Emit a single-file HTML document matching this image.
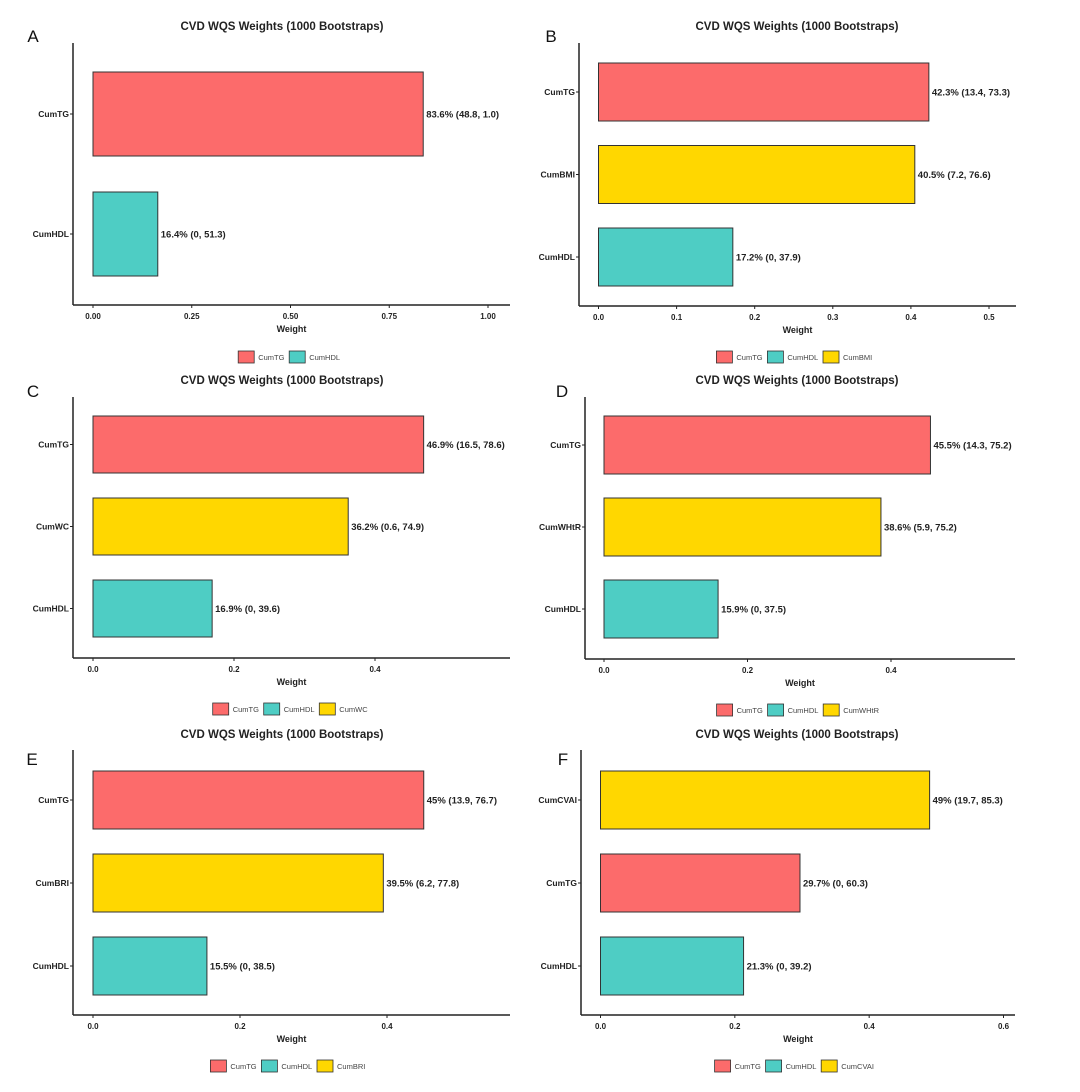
<!DOCTYPE html>
<html><head><meta charset="utf-8">
<style>
html,body{margin:0;padding:0;background:#fff;}
svg{display:block;font-family:"Liberation Sans",Arial,sans-serif;}
</style></head>
<body>
<svg id="fig" width="1080" height="1092" viewBox="0 0 1080 1092"></svg>
<script>
// Panel data
const catsA = ["CumTG","CumHDL"];
const valsA = [0.836,0.164];
const lblsA = ["83.6% (48.8, 1.0)","16.4% (0, 51.3)"];
const ticksA = [0,0.25,0.5,0.75,1.0];
const tickLblA = ["0.00","0.25","0.50","0.75","1.00"];
const legA = ["CumTG","CumHDL"];

const catsB = ["CumTG","CumBMI","CumHDL"];
const valsB = [0.423,0.405,0.172];
const lblsB = ["42.3% (13.4, 73.3)","40.5% (7.2, 76.6)","17.2% (0, 37.9)"];
const ticksB = [0,0.1,0.2,0.3,0.4,0.5];
const tickLblB = ["0.0","0.1","0.2","0.3","0.4","0.5"];
const legB = ["CumTG","CumHDL","CumBMI"];

const catsC = ["CumTG","CumWC","CumHDL"];
const valsC = [0.469,0.362,0.169];
const lblsC = ["46.9% (16.5, 78.6)","36.2% (0.6, 74.9)","16.9% (0, 39.6)"];
const ticksC = [0,0.2,0.4];
const tickLblC = ["0.0","0.2","0.4"];
const legC = ["CumTG","CumHDL","CumWC"];

const catsD = ["CumTG","CumWHtR","CumHDL"];
const valsD = [0.455,0.386,0.159];
const lblsD = ["45.5% (14.3, 75.2)","38.6% (5.9, 75.2)","15.9% (0, 37.5)"];
const ticksD = [0,0.2,0.4];
const tickLblD = ["0.0","0.2","0.4"];
const legD = ["CumTG","CumHDL","CumWHtR"];

const catsE = ["CumTG","CumBRI","CumHDL"];
const valsE = [0.45,0.395,0.155];
const lblsE = ["45% (13.9, 76.7)","39.5% (6.2, 77.8)","15.5% (0, 38.5)"];
const ticksE = [0,0.2,0.4];
const tickLblE = ["0.0","0.2","0.4"];
const legE = ["CumTG","CumHDL","CumBRI"];

const catsF = ["CumCVAI","CumTG","CumHDL"];
const valsF = [0.49,0.297,0.213];
const lblsF = ["49% (19.7, 85.3)","29.7% (0, 60.3)","21.3% (0, 39.2)"];
const ticksF = [0,0.2,0.4,0.6];
const tickLblF = ["0.0","0.2","0.4","0.6"];
const legF = ["CumTG","CumHDL","CumCVAI"];

const COLORS = {CumTG:"#fc6b6b",CumHDL:"#4ecdc4"};
function colorOf(c){return COLORS[c]||"#ffd700";}

const NS="http://www.w3.org/2000/svg";
const svg=document.getElementById('fig');
function mk(tag,attrs,parent){const e=document.createElementNS(NS,tag);for(const k in attrs)e.setAttribute(k,attrs[k]);(parent||svg).appendChild(e);return e;}

const panels=[
 {id:"a",L:"A",cats:catsA,vals:valsA,lbls:lblsA,ticks:ticksA,tl:tickLblA,leg:legA,ax:73,x0:93,x1:488,dmax:1.0,xend:510,top:43,axisY:305,bandTop:72,bandH:84,step:120,title:[282,26],letter:[33,35],legY:357},
 {id:"b",L:"B",cats:catsB,vals:valsB,lbls:lblsB,ticks:ticksB,tl:tickLblB,leg:legB,ax:579,x0:598.5,x1:989,dmax:0.5,xend:1016,top:43,axisY:306,bandTop:63,bandH:58,step:82.5,title:[797,26],letter:[551,35],legY:357},
 {id:"c",L:"C",cats:catsC,vals:valsC,lbls:lblsC,ticks:ticksC,tl:tickLblC,leg:legC,ax:73,x0:93,x1:375,dmax:0.4,xend:510,top:397,axisY:658,bandTop:416,bandH:57,step:82,title:[282,380],letter:[33,390],legY:709},
 {id:"d",L:"D",cats:catsD,vals:valsD,lbls:lblsD,ticks:ticksD,tl:tickLblD,leg:legD,ax:585,x0:604,x1:891,dmax:0.4,xend:1015,top:397,axisY:659,bandTop:416,bandH:58,step:82,title:[797,380],letter:[562,390],legY:710},
 {id:"e",L:"E",cats:catsE,vals:valsE,lbls:lblsE,ticks:ticksE,tl:tickLblE,leg:legE,ax:73,x0:93,x1:387,dmax:0.4,xend:510,top:750,axisY:1015,bandTop:771,bandH:58,step:83,title:[282,734],letter:[32,758],legY:1066},
 {id:"f",L:"F",cats:catsF,vals:valsF,lbls:lblsF,ticks:ticksF,tl:tickLblF,leg:legF,ax:581,x0:600.5,x1:1003.5,dmax:0.6,xend:1015,top:750,axisY:1015,bandTop:771,bandH:58,step:83,title:[797,734],letter:[563,758],legY:1066}
];

panels.forEach(p=>{
  const g=mk('g',{});
  
  
  const xs=v=>p.x0+(v/p.dmax)*(p.x1-p.x0);
  const t=mk('text',{x:p.title[0],y:p.title[1]+4,'text-anchor':'middle','font-size':11.5,'font-weight':'bold',fill:'#222'},g);
  t.textContent="CVD WQS Weights (1000 Bootstraps)";
  
  
  const le=mk('text',{x:p.letter[0],y:p.letter[1]+7,'text-anchor':'middle','font-size':17,fill:'#111'},g);
  le.textContent=p.L;
  
  
  p.cats.forEach((c,i)=>{
    const y=p.bandTop+i*p.step;
    const r=mk('rect',{x:xs(0),y:y,width:xs(p.vals[i])-xs(0),height:p.bandH,fill:colorOf(c),stroke:'#333','stroke-width':1},g);
    
    
    const vl=mk('text',{x:xs(p.vals[i])+3,y:y+p.bandH/2+3.5,'font-size':9.5,'font-weight':'bold',fill:'#222'},g);
    vl.textContent=p.lbls[i];
    
    
    const cl=mk('text',{x:p.ax-4,y:y+p.bandH/2+3,'text-anchor':'end','font-size':8.5,'font-weight':'bold',fill:'#222'},g);
    cl.textContent=c;
    
    
    mk('line',{x1:p.ax-3,x2:p.ax,y1:y+p.bandH/2,y2:y+p.bandH/2,stroke:'#222','stroke-width':1},g);
  });
  const ya=mk('line',{x1:p.ax,x2:p.ax,y1:p.top,y2:p.axisY,stroke:'#222','stroke-width':1.5},g);
  
  
  const xa=mk('line',{x1:p.ax,x2:p.xend,y1:p.axisY,y2:p.axisY,stroke:'#222','stroke-width':1.5},g);
  
  
  p.ticks.forEach((tv,i)=>{
    mk('line',{x1:xs(tv),x2:xs(tv),y1:p.axisY,y2:p.axisY+3,stroke:'#222','stroke-width':1},g);
    const tt=mk('text',{x:xs(tv),y:p.axisY+14,'text-anchor':'middle','font-size':8,'font-weight':'bold',fill:'#222'},g);
    tt.textContent=p.tl[i];
    
    
  });
  const cx=(p.ax+p.xend)/2;
  const wt=mk('text',{x:cx,y:p.axisY+27,'text-anchor':'middle','font-size':9,'font-weight':'bold',fill:'#222'},g);
  wt.textContent="Weight";
  
  
  const widths=p.leg.map(s=>20+s.length*4.6+8);
  const total=widths.reduce((a,b)=>a+b,0);
  let lx=cx-total/2;
  p.leg.forEach((s,i)=>{
    const lg=mk('g',{},g);
    
    
    mk('rect',{x:lx,y:p.legY-6,width:16,height:12,fill:colorOf(s),stroke:'#333','stroke-width':0.8},lg);
    const lt=mk('text',{x:lx+20,y:p.legY+3,'font-size':7.5,fill:'#444'},lg);
    lt.textContent=s;
    lx+=widths[i];
  });
});
</script>
</body></html>
